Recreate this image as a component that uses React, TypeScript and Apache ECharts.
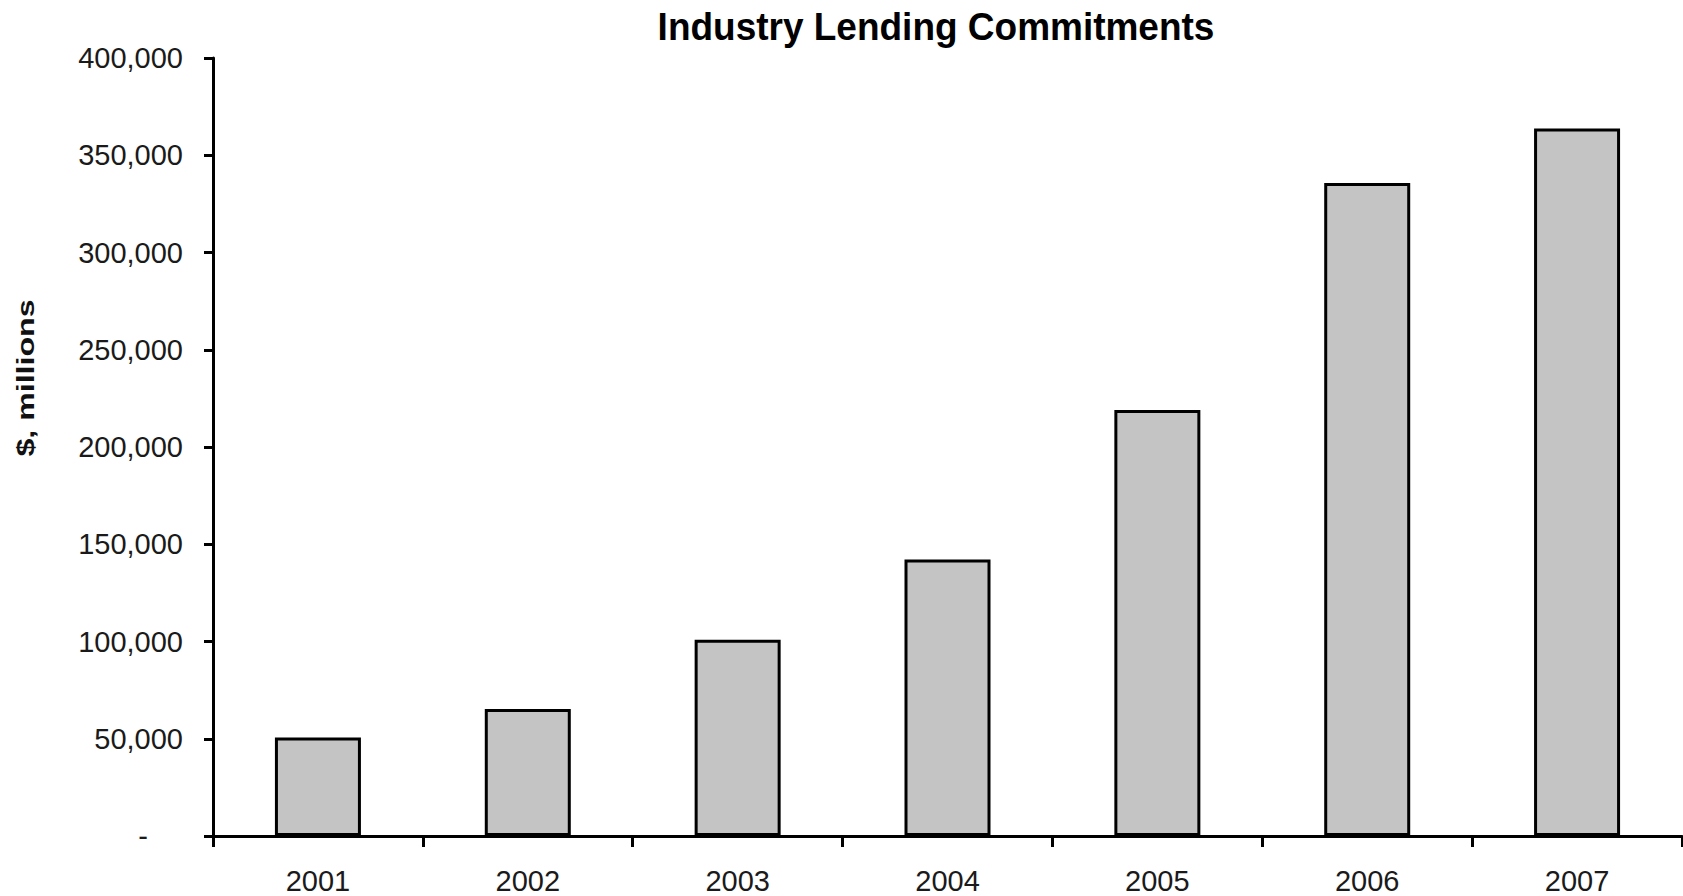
import React, { useEffect, useRef } from "react";
import * as echarts from "echarts";

const categories = ["2001", "2002", "2003", "2004", "2005", "2006", "2007"];
const commitments = [50600, 65300, 100900, 142200, 219000, 335700, 363700];
const chartTitle = "Industry Lending Commitments";
const yAxisTitle = "$, millions";
const yMin = 0;
const yMax = 400000;
const yStep = 50000;

const FONT = '"Liberation Sans", Arial, Helvetica, sans-serif';

export default function App() {
  const ref = useRef<HTMLDivElement>(null);

  useEffect(() => {
    if (!ref.current) return;
    const chart = echarts.init(ref.current, undefined, { renderer: "svg" });
    chart.setOption({
      animation: false,
      backgroundColor: "#ffffff",
      grid: { left: 213, right: 1, top: 58, bottom: 60, containLabel: false },
      graphic: [
        {
          type: "text",
          x: 936,
          y: 26,
          scaleY: 1.07,
          style: {
            text: chartTitle,
            fontFamily: FONT,
            fontSize: 37,
            fontWeight: "bold",
            fill: "#000",
            align: "center",
            verticalAlign: "middle",
            textAlign: "center",
            textVerticalAlign: "middle",
          },
        },
        {
          type: "text",
          x: 26,
          y: 378,
          rotation: Math.PI / 2,
          scaleX: 1.34,
          style: {
            text: yAxisTitle,
            fontFamily: FONT,
            fontSize: 24,
            fontWeight: "bold",
            fill: "#111",
            align: "center",
            verticalAlign: "middle",
            textAlign: "center",
            textVerticalAlign: "middle",
          },
        },
      ],
      xAxis: {
        type: "category",
        data: categories,
        boundaryGap: true,
        axisLine: { show: true, lineStyle: { color: "#000", width: 3 } },
        axisTick: { show: true, length: 11, lineStyle: { color: "#000", width: 3 } },
        axisLabel: {
          margin: 30,
          fontFamily: FONT,
          fontSize: 29,
          color: "#1a1a1a",
        },
        splitLine: { show: false },
      },
      yAxis: {
        type: "value",
        min: yMin,
        max: yMax,
        interval: yStep,
        axisLine: { show: true, lineStyle: { color: "#000", width: 3 } },
        axisTick: { show: true, length: 9, lineStyle: { color: "#000", width: 3 } },
        axisLabel: {
          margin: 30,
          fontFamily: FONT,
          fontSize: 29,
          color: "#1a1a1a",
          formatter: (v: number) =>
            v === 0 ? "{d|-}" : v.toLocaleString("en-US"),
          rich: {
            d: {
              fontFamily: FONT,
              fontSize: 29,
              color: "#1a1a1a",
              padding: [0, 35, 0, 0],
            },
          },
        },
        splitLine: { show: false },
      },
      series: [
        {
          type: "bar",
          data: commitments,
          barWidth: 86,
          itemStyle: {
            color: "#c4c4c4",
            borderColor: "#000",
            borderWidth: 3,
          },
        },
      ],
    });
    return () => chart.dispose();
  }, []);

  return (
    <div
      ref={ref}
      style={{ position: "absolute", left: 0, top: 0, width: 1683, height: 896 }}
    />
  );
}
